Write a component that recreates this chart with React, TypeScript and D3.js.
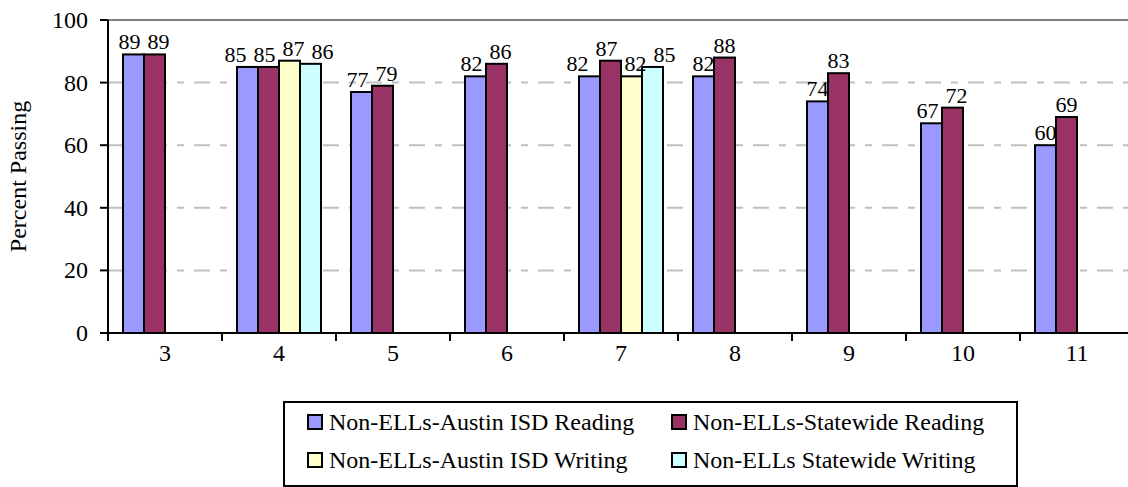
import React from "react";
import * as d3 from "d3";

const grades = ["3", "4", "5", "6", "7", "8", "9", "10", "11"];
const seriesNames = [
  "Non-ELLs-Austin ISD Reading",
  "Non-ELLs-Statewide Reading",
  "Non-ELLs-Austin ISD Writing",
  "Non-ELLs Statewide Writing",
];
const austinReading = [89, 85, 77, 82, 82, 82, 74, 67, 60];
const stateReading = [89, 85, 79, 86, 87, 88, 83, 72, 69];
const austinWriting: (number | null)[] = [null, 87, null, null, 82, null, null, null, null];
const stateWriting: (number | null)[] = [null, 86, null, null, 85, null, null, null, null];
const colors = ["#9999FF", "#993366", "#FFFFCC", "#CCFFFF"];
const yTicks = [0, 20, 40, 60, 80, 100];

const W = 1128;
const H = 487;
const left = 108;
const catW = 114;
const top = 20;
const bottom = 333;
const FONT = "Liberation Serif, Times New Roman, serif";

type Label = { key: string; v: number; cx: number; by: number };

export default function App() {
  const series = [austinReading, stateReading, austinWriting, stateWriting];
  const x = d3.scaleBand<string>().domain(grades).range([left, left + catW * grades.length]).padding(0);
  const xs = d3.scaleBand<number>().domain([0, 1, 2, 3]).range([15, catW - 15]).padding(0);
  const y = d3.scaleLinear().domain([0, 100]).range([bottom, top]);

  // value labels, spread apart horizontally when they would collide
  const labels: Label[] = [];
  grades.forEach((g, gi) => {
    const grp: Label[] = [];
    series.forEach((vals, si) => {
      const v = vals[gi];
      if (v == null) return;
      grp.push({
        key: `l${si}-${gi}`,
        v,
        cx: (x(g) as number) + (xs(si) as number) + xs.bandwidth() / 2,
        by: y(v) - 5,
      });
    });
    const minGap = 29;
    for (let iter = 0; iter < 30; iter++) {
      for (let a = 0; a < grp.length - 1; a++) {
        const p = grp[a];
        const q = grp[a + 1];
        if (Math.abs(p.by - q.by) < 18 && q.cx - p.cx < minGap) {
          const push = (minGap - (q.cx - p.cx)) / 2;
          p.cx -= push;
          q.cx += push;
        }
      }
    }
    labels.push(...grp);
  });

  const legendItems = [
    { i: 0, x: 308, y: 422 },
    { i: 1, x: 672, y: 422 },
    { i: 2, x: 308, y: 460 },
    { i: 3, x: 672, y: 460 },
  ];
  const ts = { fontFamily: FONT };

  return (
    <svg
      width={W}
      height={H}
      style={{ position: "fixed", left: 0, top: 0, background: "#fff", fontFamily: FONT }}
    >
      {yTicks.filter((t) => t > 0 && t < 100).map((t) => (
        <line key={t} x1={left} x2={W} y1={y(t)} y2={y(t)} stroke="#C0C0C0" strokeWidth={2} strokeDasharray="16,10,7,10" />
      ))}
      <line x1={left} x2={W} y1={y(100)} y2={y(100)} stroke="#808080" strokeWidth={2} />

      {series.map((vals, si) =>
        vals.map((v, gi) =>
          v == null ? null : (
            <rect
              key={`${si}-${gi}`}
              x={(x(grades[gi]) as number) + (xs(si) as number)}
              y={y(v)}
              width={xs.bandwidth()}
              height={y(0) - y(v)}
              fill={colors[si]}
              stroke="#000"
              strokeWidth={2}
            />
          )
        )
      )}

      {labels.map((l) => (
        <text key={l.key} x={l.cx} y={l.by} textAnchor="middle" fontSize={22} fill="#000" style={ts}>
          {l.v}
        </text>
      ))}

      <line x1={left} x2={left} y1={top} y2={bottom} stroke="#000" strokeWidth={2} />
      <line x1={left - 8} x2={W} y1={bottom} y2={bottom} stroke="#000" strokeWidth={2} />
      {yTicks.map((t) => (
        <g key={`yt${t}`}>
          <line x1={left - 8} x2={left} y1={y(t)} y2={y(t)} stroke="#000" strokeWidth={2} />
          <text x={left - 20} y={y(t) + 8} textAnchor="end" fontSize={24} fill="#000" style={ts}>
            {t}
          </text>
        </g>
      ))}
      {grades.map((g, i) => (
        <g key={`xt${g}`}>
          <line x1={left + i * catW} x2={left + i * catW} y1={bottom} y2={bottom + 8} stroke="#000" strokeWidth={2} />
          <text x={(x(g) as number) + catW / 2} y={bottom + 28} textAnchor="middle" fontSize={24} fill="#000" style={ts}>
            {g}
          </text>
        </g>
      ))}
      <text transform={`translate(26,${(top + bottom) / 2}) rotate(-90)`} textAnchor="middle" fontSize={24} fill="#000" style={ts}>
        Percent Passing
      </text>

      <rect x={284} y={402} width={733} height={84} fill="#fff" stroke="#000" strokeWidth={2} />
      {legendItems.map((it) => (
        <g key={`lg${it.i}`}>
          <rect x={it.x} y={it.y - 7} width={14} height={14} fill={colors[it.i]} stroke="#000" strokeWidth={2} />
          <text x={it.x + 21} y={it.y + 8} fontSize={24} fill="#000" style={ts}>
            {seriesNames[it.i]}
          </text>
        </g>
      ))}
    </svg>
  );
}
